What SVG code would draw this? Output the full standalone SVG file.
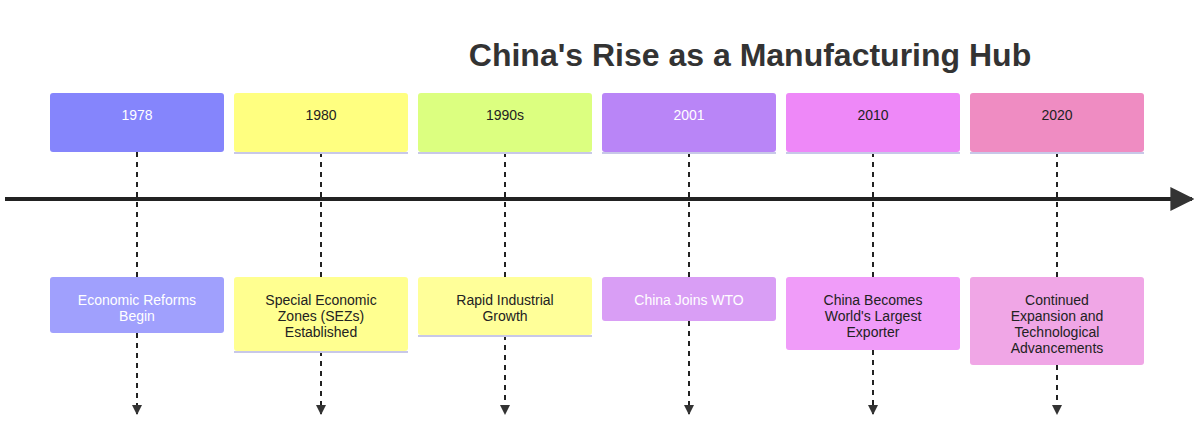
<svg xmlns="http://www.w3.org/2000/svg" width="1196" height="428" viewBox="0 0 1196 428">
<style>
text{font-family:"Liberation Sans",Arial,sans-serif;font-size:14px;text-anchor:middle}
.t{font-size:32px;font-weight:bold;fill:#333}
.w{fill:#fff}.k{fill:#222}
.d{stroke:#222;stroke-width:2;stroke-dasharray:5,5;fill:none}
.u{stroke:#c8c8e8;stroke-width:2}
</style>
<defs>
<marker id="a" viewBox="0 0 10 10" refX="9" refY="5" markerWidth="5" markerHeight="5" orient="auto"><path d="M0,0L10,5L0,10z" fill="#333"/></marker>
<marker id="b" viewBox="0 0 10 10" refX="9" refY="5" markerWidth="6" markerHeight="6" orient="auto"><path d="M0,0L10,5L0,10z" fill="#333"/></marker>
</defs>
<rect width="1196" height="428" fill="#fff"/>
<text class="t" x="750" y="66">China's Rise as a Manufacturing Hub</text>
<g id="connectors">
<line x1="5" y1="199" x2="1192" y2="199" stroke="#222" stroke-width="4" marker-end="url(#b)"/>
<path class="d" d="M137,152V277M137,333V414" marker-end="url(#a)"/>
<path class="d" d="M321,152V277M321,351V414" marker-end="url(#a)"/>
<path class="d" d="M505,152V277M505,335V414" marker-end="url(#a)"/>
<path class="d" d="M689,152V277M689,321V414" marker-end="url(#a)"/>
<path class="d" d="M873,152V277M873,350V414" marker-end="url(#a)"/>
<path class="d" d="M1057,152V277M1057,365V414" marker-end="url(#a)"/>
</g>
<g id="s1978"><rect x="50" y="93" width="174" height="59" rx="3" fill="#8585fc"/><text class="w" x="137" y="120">1978</text></g>
<g id="s1980"><rect x="234" y="93" width="174" height="59" rx="3" fill="#ffff80"/><line class="u" x1="234" y1="153" x2="408" y2="153"/><text class="k" x="321" y="120">1980</text></g>
<g id="s1990"><rect x="418" y="93" width="174" height="59" rx="3" fill="#dcff80"/><line class="u" x1="418" y1="153" x2="592" y2="153"/><text class="k" x="505" y="120">1990s</text></g>
<g id="s2001"><rect x="602" y="93" width="174" height="59" rx="3" fill="#b985f7"/><line class="u" x1="602" y1="153" x2="776" y2="153"/><text class="w" x="689" y="120">2001</text></g>
<g id="s2010"><rect x="786" y="93" width="174" height="59" rx="3" fill="#ee88f8"/><line class="u" x1="786" y1="153" x2="960" y2="153"/><text class="k" x="873" y="120">2010</text></g>
<g id="s2020"><rect x="970" y="93" width="174" height="59" rx="3" fill="#ef8cc2"/><line class="u" x1="970" y1="153" x2="1144" y2="153"/><text class="k" x="1057" y="120">2020</text></g>
<g id="e1978"><rect x="50" y="277" width="174" height="56" rx="3" fill="#a0a0fd"/><text class="w" x="137" y="305">Economic Reforms</text><text class="w" x="137" y="321">Begin</text></g>
<g id="e1980"><rect x="234" y="277" width="174" height="74" rx="3" fill="#ffff90"/><line class="u" x1="234" y1="352" x2="408" y2="352"/><text class="k" x="321" y="305">Special Economic</text><text class="k" x="321" y="321">Zones (SEZs)</text><text class="k" x="321" y="337">Established</text></g>
<g id="e1990"><rect x="418" y="277" width="174" height="58" rx="3" fill="#ffff99"/><line class="u" x1="418" y1="336" x2="592" y2="336"/><text class="k" x="505" y="305">Rapid Industrial</text><text class="k" x="505" y="321">Growth</text></g>
<g id="e2001"><rect x="602" y="277" width="174" height="44" rx="3" fill="#d99ef5"/><text class="w" x="689" y="305">China Joins WTO</text></g>
<g id="e2010"><rect x="786" y="277" width="174" height="73" rx="3" fill="#f09cf9"/><text class="k" x="873" y="305">China Becomes</text><text class="k" x="873" y="321">World's Largest</text><text class="k" x="873" y="337">Exporter</text></g>
<g id="e2020"><rect x="970" y="277" width="174" height="88" rx="3" fill="#f0a6e6"/><text class="k" x="1057" y="305">Continued</text><text class="k" x="1057" y="321">Expansion and</text><text class="k" x="1057" y="337">Technological</text><text class="k" x="1057" y="353">Advancements</text></g>
</svg>
